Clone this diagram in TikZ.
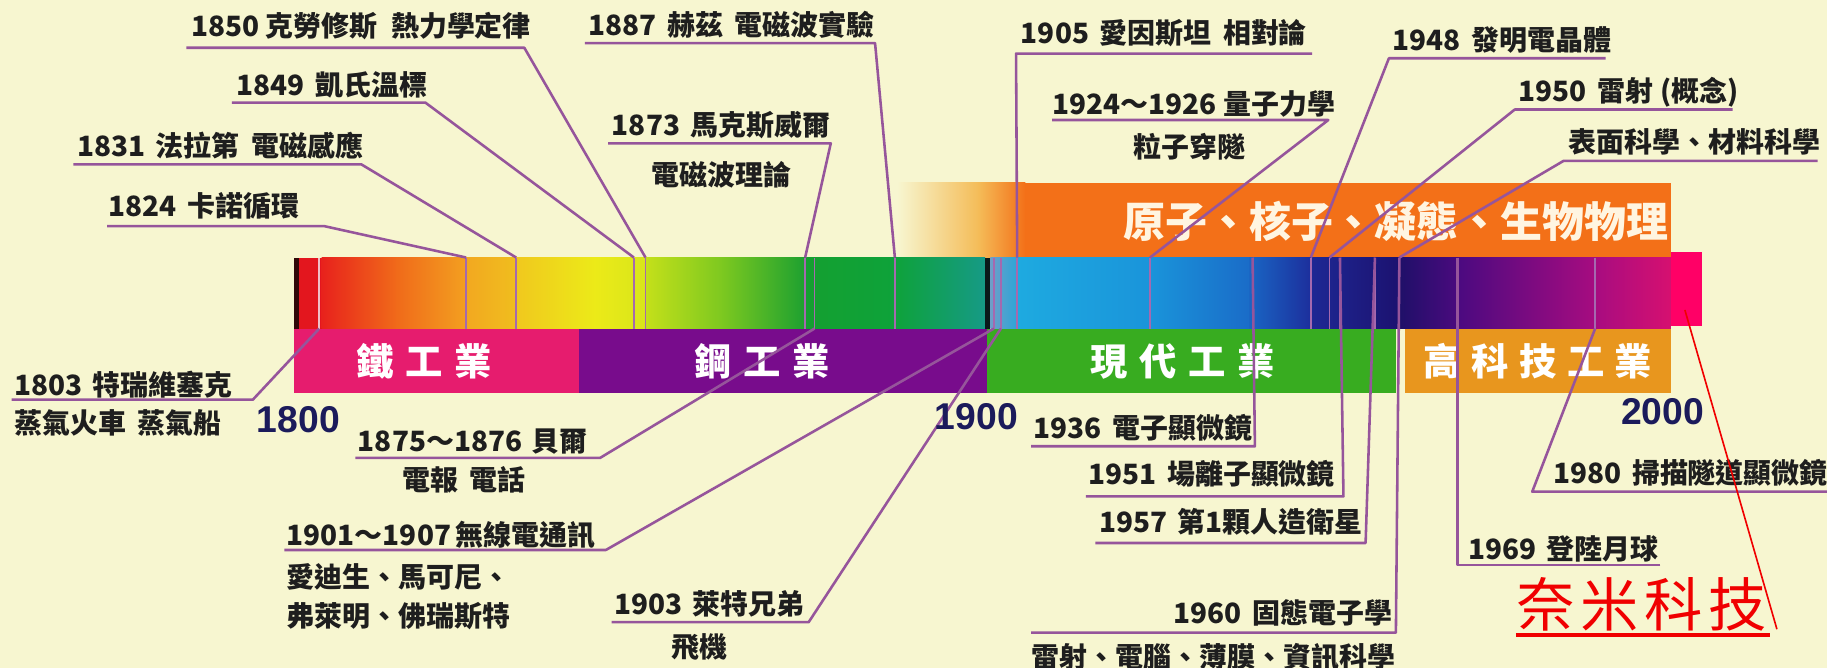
\documentclass[tikz,border=0pt]{standalone}
\usepackage{fontspec}
\newfontfamily\cjk{Noto Sans CJK TC}
\newfontfamily\yrfont{Liberation Sans}
\definecolor{bg}{RGB}{247,246,208}
\definecolor{leadc}{RGB}{150,85,155}
\definecolor{tickc}{RGB}{165,105,175}
\definecolor{tickw}{RGB}{240,190,200}
\definecolor{txt}{RGB}{30,30,30}
\definecolor{navy}{RGB}{27,27,91}
\definecolor{iron}{RGB}{230,28,110}
\definecolor{steel}{RGB}{120,12,140}
\definecolor{modern}{RGB}{56,172,32}
\definecolor{hitech}{RGB}{232,150,30}
\definecolor{band}{RGB}{243,112,24}
\definecolor{bandpale}{RGB}{244,188,88}
\definecolor{bandtext}{RGB}{255,245,225}
\definecolor{nano}{RGB}{255,0,102}
\definecolor{nanored}{RGB}{240,0,0}
\definecolor{sA}{RGB}{48,8,8}
\definecolor{sB}{RGB}{227,22,30}
\definecolor{sC}{RGB}{232,34,28}
\definecolor{sD}{RGB}{240,106,26}
\definecolor{sE}{RGB}{243,160,32}
\definecolor{sF}{RGB}{242,168,32}
\definecolor{sG}{RGB}{240,190,30}
\definecolor{sH}{RGB}{240,200,30}
\definecolor{sI}{RGB}{236,234,24}
\definecolor{sJ}{RGB}{216,230,26}
\definecolor{sK}{RGB}{196,224,26}
\definecolor{sL}{RGB}{124,200,32}
\definecolor{sM}{RGB}{28,160,48}
\definecolor{sN}{RGB}{20,160,48}
\definecolor{sO}{RGB}{14,162,58}
\definecolor{sP}{RGB}{22,154,134}
\definecolor{sQ}{RGB}{10,26,26}
\definecolor{sR}{RGB}{110,158,200}
\definecolor{sS}{RGB}{42,166,216}
\definecolor{sT}{RGB}{30,170,224}
\definecolor{sU}{RGB}{26,148,218}
\definecolor{sV}{RGB}{26,108,200}
\definecolor{sW}{RGB}{26,102,196}
\definecolor{sX}{RGB}{28,46,156}
\definecolor{sY}{RGB}{30,40,148}
\definecolor{sZ}{RGB}{28,18,112}
\definecolor{tA}{RGB}{30,16,104}
\definecolor{tB}{RGB}{74,10,126}
\definecolor{tC}{RGB}{74,10,128}
\definecolor{tD}{RGB}{168,12,128}
\definecolor{tE}{RGB}{214,16,112}
\tikzset{
 lab/.style={font=\cjk\bfseries\fontsize{24pt}{24pt}\selectfont, text=txt, anchor=west, inner sep=0pt},
 yr/.style={font=\yrfont\bfseries\fontsize{32pt}{32pt}\selectfont, text=navy, inner sep=0pt},
 ind/.style={font=\cjk\bfseries\fontsize{32pt}{32pt}\selectfont, text=white, inner sep=0pt},
 bandtxt/.style={font=\cjk\bfseries\fontsize{36pt}{36pt}\selectfont, text=bandtext, inner sep=0pt},
 lead/.style={draw=leadc, line width=2.2pt, line join=round},
 tk/.style={draw=tickc, line width=1.6pt},
}
\begin{document}
\begin{tikzpicture}[x=1pt,y=-1pt]
\useasboundingbox (0,0) rectangle (1568,573.3);
\fill[bg] (0,0) rectangle (1568,573.3);

% upper band
\shade[left color=bg, right color=bandpale] (770,157) rectangle (840,221);
\shade[left color=bandpale, right color=band] (839.5,157) rectangle (880,221);
\fill[band] (879.5,157) rectangle (1434,221);

% spectrum
\fill[sA] (252,221) rectangle (257.5,282);
\fill[sB] (257,221) rectangle (276.5,282);
\shade[left color=sC, right color=sD] (276,221) rectangle (340.5,282);
\shade[left color=sD, right color=sE] (340,221) rectangle (400.5,282);
\shade[left color=sF, right color=sG] (400,221) rectangle (443.5,282);
\shade[left color=sH, right color=sI] (443,221) rectangle (510.5,282);
\shade[left color=sI, right color=sJ] (510,221) rectangle (554.5,282);
\shade[left color=sK, right color=sL] (554,221) rectangle (620.5,282);
\shade[left color=sL, right color=sM] (620,221) rectangle (691.5,282);
\shade[left color=sN, right color=sO] (691,221) rectangle (768.5,282);
\shade[left color=sO, right color=sP] (768,221) rectangle (845.5,282);
\fill[sQ] (845,221) rectangle (850,282);
\shade[left color=sR, right color=sS] (850,221) rectangle (873.5,282);
\shade[left color=sT, right color=sU] (873,221) rectangle (987.5,282);
\shade[left color=sU, right color=sV] (987,221) rectangle (1072.5,282);
\shade[left color=sW, right color=sX] (1072,221) rectangle (1125.5,282);
\shade[left color=sY, right color=sZ] (1125,221) rectangle (1200.5,282);
\shade[left color=tA, right color=tB] (1200,221) rectangle (1250.5,282);
\shade[left color=tC, right color=tD] (1250,221) rectangle (1370.5,282);
\shade[left color=tD, right color=tE] (1370,221) rectangle (1434,282);

% industry bar
\fill[iron] (252,282) rectangle (497,337);
\fill[steel] (497,282) rectangle (847,337);
\fill[modern] (847,282) rectangle (1198,337);
\fill[hitech] (1206,282) rectangle (1434,337);

\node[ind] (iron) at (364,310) {鐵\hspace{10pt}工\hspace{10pt}業};
\node[ind] (steel) at (654,310) {鋼\hspace{10pt}工\hspace{10pt}業};
\node[ind] (modern) at (1015,310) {現\hspace{10pt}代\hspace{10pt}工\hspace{10pt}業};
\node[ind] (hitech) at (1320,310) {高\hspace{9pt}科\hspace{9pt}技\hspace{9pt}工\hspace{9pt}業};
\node[bandtxt] (bandlabel) at (1198,190) {原子、核子、凝態、生物物理};

% ticks in spectrum
\draw[line width=1.4pt, draw=tickw] (274,221) -- (274,282);
\foreach \x in {400,443,544,554,691,699,768,853,859,873,987,1075,1125,1141,1150,1180,1201,1251,1369}
  \draw[tk] (\x,221) -- (\x,282);

% coordinates
\coordinate (u1850a) at (160,41);  \coordinate (u1850b) at (450,41);  \coordinate (t1850) at (554,221);
\coordinate (u1849a) at (199,88);  \coordinate (u1849b) at (365,88);  \coordinate (t1849) at (544,221);
\coordinate (u1831a) at (63,141);  \coordinate (u1831b) at (310,141); \coordinate (t1831) at (443,221);
\coordinate (u1824a) at (92,194);  \coordinate (u1824b) at (278,194); \coordinate (t1824) at (400,221);
\coordinate (u1887a) at (502,37);  \coordinate (u1887b) at (751,37);  \coordinate (t1887) at (768,221);
\coordinate (u1873a) at (522,123); \coordinate (u1873b) at (713,123); \coordinate (t1873) at (691,221);
\coordinate (u1905a) at (1126,46); \coordinate (u1905b) at (872,46);  \coordinate (t1905) at (873,221);
\coordinate (u1924a) at (903,103); \coordinate (u1924b) at (1140,103);\coordinate (t1924) at (987,221);
\coordinate (u1948a) at (1378,50); \coordinate (u1948b) at (1192,50); \coordinate (t1948) at (1125,221);
\coordinate (u1950a) at (1487,94); \coordinate (u1950b) at (1300,94); \coordinate (t1950) at (1141,221);
\coordinate (usura) at (1560,138); \coordinate (usurb) at (1342,138); \coordinate (tsur) at (1201,221);
\coordinate (u1803a) at (10,343);  \coordinate (u1803b) at (217,343); \coordinate (t1803) at (274,282);
\coordinate (u1875a) at (305,393); \coordinate (u1875b) at (515,393); \coordinate (t1875) at (699,282);
\coordinate (u1901a) at (244,472); \coordinate (u1901b) at (520,472); \coordinate (t1901) at (853,282);
\coordinate (u1903a) at (525,534); \coordinate (u1903b) at (694,534); \coordinate (t1903) at (859,282);
\coordinate (u1936a) at (885,383); \coordinate (u1936b) at (1077,383);\coordinate (t1936) at (1075,221);
\coordinate (u1951a) at (932,426); \coordinate (u1951b) at (1153,426);\coordinate (t1951) at (1150,221);
\coordinate (u1957a) at (940,466); \coordinate (u1957b) at (1172,466);\coordinate (t1957) at (1180,221);
\coordinate (u1960a) at (885,543); \coordinate (u1960b) at (1198,543);\coordinate (t1960) at (1201,221);
\coordinate (u1969a) at (1425,485);\coordinate (u1969b) at (1251,485);\coordinate (t1969) at (1251,221);
\coordinate (u1980a) at (1568,422);\coordinate (u1980b) at (1315,422);\coordinate (t1980) at (1369,282);

\foreach \n in {1850,1849,1831,1824,1887,1873,1905,1924,1948,1950,sur,1803,1875,1901,1903,1936,1951,1957,1960,1969,1980}
  \draw[lead] (u\n a) -- (u\n b) -- (t\n);

% labels
\node[lab] (l1850) at (164,22) {1850\hspace{5pt}克勞修斯\hspace{12pt}熱力學定律};
\node[lab] (l1849) at (203,73) {1849\hspace{9pt}凱氏溫標};
\node[lab] (l1831) at (66,125) {1831\hspace{9pt}法拉第\hspace{10pt}電磁感應};
\node[lab] (l1824) at (93,177) {1824\hspace{9pt}卡諾循環};
\node[lab] (l1887) at (505,21) {1887\hspace{9pt}赫茲\hspace{10pt}電磁波實驗};
\node[lab] (l1873) at (525,107) {1873\hspace{9pt}馬克斯威爾};
\node[lab] (l1873b) at (559,150) {電磁波理論};
\node[lab] (l1905) at (876,28) {1905\hspace{9pt}愛因斯坦\hspace{10pt}相對論};
\node[lab] (l1924) at (903,89) {1924～1926\hspace{6pt}量子力學};
\node[lab] (l1924b) at (973,126) {粒子穿隧};
\node[lab] (l1948) at (1195,34) {1948\hspace{9pt}發明電晶體};
\node[lab] (l1950) at (1303,79) {1950\hspace{9pt}雷射\hspace{6pt}(概念)};
\node[lab] (lsur) at (1346,122) {表面科學、材料科學};
\node[lab] (l1803) at (12,330) {1803\hspace{9pt}特瑞維塞克};
\node[lab] (l1803b) at (12,363) {蒸氣火車\hspace{10pt}蒸氣船};
\node[lab] (l1875) at (307,379) {1875～1876\hspace{8pt}貝爾};
\node[lab] (l1875b) at (345,412) {電報\hspace{10pt}電話};
\node[lab] (l1901) at (246,459) {1901～1907\hspace{4pt}無線電通訊};
\node[lab] (l1901b) at (246,495) {愛迪生、馬可尼、};
\node[lab] (l1901c) at (246,529) {弗萊明、佛瑞斯特};
\node[lab] (l1903) at (527,518) {1903\hspace{9pt}萊特兄弟};
\node[lab] (l1903b) at (576,555) {飛機};
\node[lab] (l1936) at (887,367) {1936\hspace{9pt}電子顯微鏡};
\node[lab] (l1951) at (934,407) {1951\hspace{9pt}場離子顯微鏡};
\node[lab] (l1957) at (943,448) {1957\hspace{9pt}第1顆人造衛星};
\node[lab] (l1960) at (1007,526) {1960\hspace{9pt}固態電子學};
\node[lab] (l1960b) at (885,564) {雷射、電腦、薄膜、資訊科學};
\node[lab] (l1969) at (1260,471) {1969\hspace{9pt}登陸月球};
\node[lab] (l1980) at (1333,406) {1980\hspace{9pt}掃描隧道顯微鏡};

\node[yr] (y1800) at (256,360) {1800};
\node[yr] (y1900) at (838,358) {1900};
\node[yr] (y2000) at (1427,353) {2000};

% nano
\fill[nano] (1434,216) rectangle (1461,280);
\coordinate (nanoA) at (1446,266);
\coordinate (nanoB) at (1525,540);
\draw[nanored, line width=1.4pt] (nanoA) -- (nanoB);
\node[font=\cjk\fontsize{50pt}{50pt}\selectfont, text=nanored, inner sep=0pt] (nanotxt) at (1409,519) {奈\hspace{5pt}米\hspace{5pt}科\hspace{5pt}技};
\draw[nanored, line width=3pt] (1301,545) -- (1519,545);
\end{tikzpicture}
\end{document}
